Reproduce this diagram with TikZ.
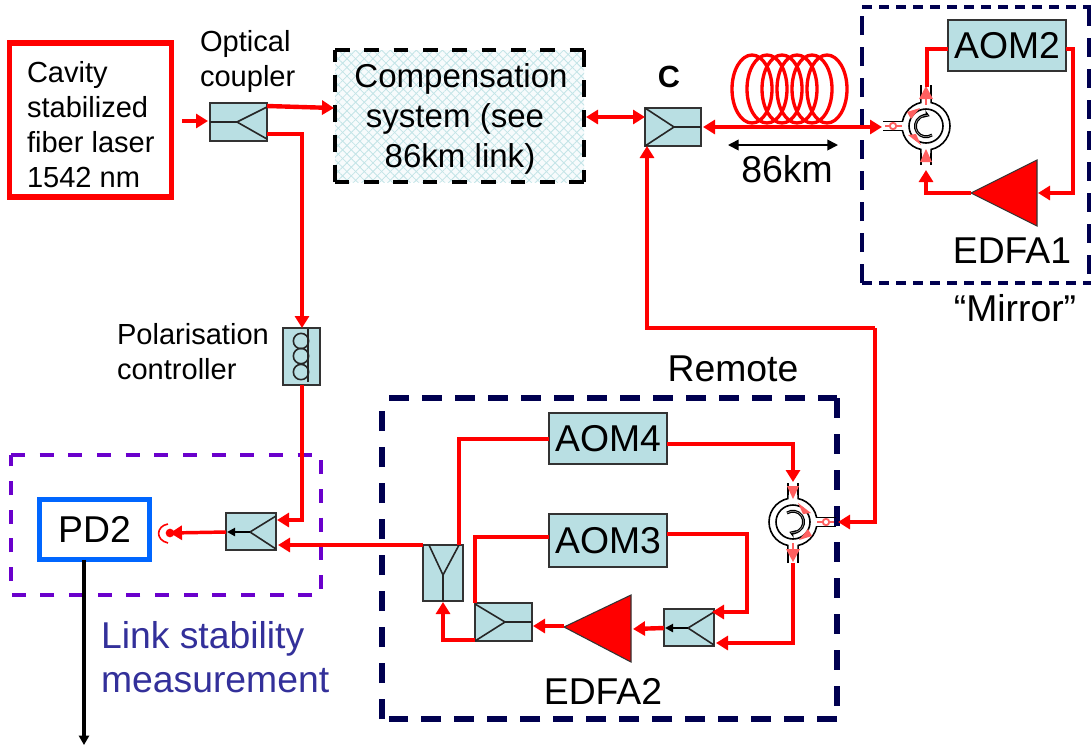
\documentclass[tikz,border=0pt]{standalone}
\usepackage{fontspec}
\setmainfont{Liberation Sans}
\usetikzlibrary{arrows.meta,patterns.meta,calc}
\definecolor{fib}{HTML}{FF0000}
\definecolor{pk}{HTML}{FF6060}
\definecolor{boxc}{HTML}{B9DFE3}
\definecolor{navyd}{HTML}{000050}
\definecolor{purp}{HTML}{6A00CC}
\definecolor{blued}{HTML}{0066FF}
\definecolor{linkc}{HTML}{33309A}
\tikzset{
  x=0.75pt,y=-0.75pt,
  redarrow/.tip={Triangle[length=9pt,width=10.5pt]},
  fibre/.style={draw=fib,line width=3.3pt,line join=miter},
  fibrea/.style={fibre,-{redarrow}},
  fibreb/.style={fibre,{redarrow}-{redarrow}},
  comp/.style={draw=black!80,line width=1.5pt,fill=boxc,inner sep=0pt,outer sep=0pt,font=\fontsize{28pt}{30pt}\selectfont},
  inner/.style={draw=black!85,line width=1.2pt},
  amp/.style={draw=black!80,line width=0.8pt,fill=fib},
  lab/.style={inner sep=0pt,outer sep=0pt,align=left,anchor=base west},
  big/.style={lab,font=\fontsize{28pt}{30pt}\selectfont},
  small/.style={lab,font=\fontsize{21.8pt}{26pt}\selectfont},
  blackarrow/.style={draw=black,line width=1.8pt,-{Triangle[length=6pt,width=6pt]}},
}
% box named #1, corners (#2,#3) and (#4,#5), text #6
\newcommand{\cbox}[6]{%
  \pgfmathsetmacro{\bw}{(#4-#2)*0.75}\pgfmathsetmacro{\bh}{(#5-#3)*0.75}%
  \node[comp,minimum width=\bw pt,minimum height=\bh pt] (#1) at ({(#2+#4)/2},{(#3+#5)/2}) {#6};%
}
% circulator: name, x, y, rotation
\newcommand{\circulator}[4]{%
  \begin{scope}[shift={(#2,#3)},rotate=#4]
    \foreach \s in {-5,5}{
      \draw[black,line width=1.2pt] (\s,-41) -- (\s,-21);
      \draw[black,line width=1.2pt] (\s,39) -- (\s,21);
      \draw[black,line width=1.2pt] (-43,\s*0.9) -- (-21,\s*0.9);
    }
    \node[circle,draw=black,line width=1.2pt,fill=white,minimum size=36pt,inner sep=0pt,outer sep=0pt] (#1) at (0,0) {};
    \fill[white] (-4.4,-27) rectangle (4.4,-18) (-4.4,27) rectangle (4.4,18) (-27,-3.8) rectangle (-18,3.8);
    \node[circle,draw=black,line width=1.2pt,minimum size=25.5pt,inner sep=0pt] at (0,0) {};
    \draw[black,line width=2.2pt,-{Stealth[length=4.5pt,width=6pt]}]
      (6,9) arc[start angle=-56,end angle=-290,x radius=8pt,y radius=8pt];
    \draw[white!70!black,line width=0.4pt] (6,9) arc[start angle=-56,end angle=-280,x radius=8pt,y radius=8pt];
    \fill[pk] (0,-40) -- (7,-27) -- (-7,-27) -- cycle;
    \draw[pk,line width=2pt] (0,-28) -- (0,-21);
    \fill[pk] (0,23) -- (6,36) -- (-6,36) -- cycle;
    \draw[pk,line width=2pt] (0,35) -- (0,28);
    \draw[pk,line width=1.4pt] (-33,0) circle[radius=2.4pt];
    \draw[pk,line width=2pt] (-41,0) -- (-37,0) (-29,0) -- (-24,0);
    \fill[pk] (-6,-18) -- (-19,-14) -- (-15,-7) -- cycle;
    \fill[pk] (-5,19) -- (-18,9) -- (-10,8) -- cycle;
  \end{scope}%
}
\begin{document}
\begin{tikzpicture}
\useasboundingbox (0,0) rectangle (1091,744);

% dashed frames
\node[inner sep=0,minimum width=186.75pt,minimum height=99pt,fill=boxc!12,
  postaction={pattern={Lines[angle=45,distance=4.6pt,line width=0.6pt]},pattern color=boxc!85},
  postaction={pattern={Lines[angle=-45,distance=4.6pt,line width=0.6pt]},pattern color=boxc!85}] (compfill) at (459.5,116) {};
\coordinate (ca) at (335,50);\coordinate (cb) at (584,50);\coordinate (cc) at (584,182);\coordinate (cd) at (335,182);
\draw[line width=3pt,dash pattern=on 11pt off 11pt] (ca) -- (cb);
\draw[line width=3pt,dash pattern=on 13pt off 9.5pt] (cb) -- (cc);
\draw[line width=3pt,dash pattern=on 11pt off 11pt] (cc) -- (cd);
\draw[line width=3pt,dash pattern=on 13pt off 9.5pt] (cd) -- (ca);

\coordinate (ma) at (862,7);\coordinate (mb) at (1091,7);\coordinate (mc) at (1091,283);\coordinate (md) at (862,283);\coordinate (me) at (1089,7);\coordinate (mf) at (1089,283);
\draw[navyd,line width=3.6pt,dash pattern=on 7.5pt off 5.25pt] (ma) -- (mb);
\draw[navyd,line width=3.6pt,dash pattern=on 7.5pt off 5.25pt] (md) -- (mc);
\draw[navyd,line width=3pt,dash pattern=on 14pt off 9.25pt] (md) -- (ma);
\draw[navyd,line width=3pt,dash pattern=on 14pt off 9.25pt] (me) -- (mf);

\coordinate (ra) at (382,398);\coordinate (rb) at (837,398);\coordinate (rc) at (837,719);\coordinate (rd) at (382,719);
\coordinate (ra2) at (389,398);\coordinate (rd2) at (389,719);\coordinate (ra3) at (382,404);
\draw[navyd,line width=4pt,dash pattern=on 15pt off 9.75pt] (ra2) -- (rb);
\draw[navyd,line width=4pt,dash pattern=on 15pt off 12pt] (rb) -- (rc);
\draw[navyd,line width=4pt,dash pattern=on 15pt off 9.75pt] (rc) -- (rd2);
\draw[navyd,line width=4pt,dash pattern=on 15pt off 12pt] (rd) -- (ra3);

\coordinate (pa) at (11,455);\coordinate (pb) at (321,455);\coordinate (pc) at (321,595);\coordinate (pd) at (11,595);
\draw[purp,line width=2.6pt,dash pattern=on 10.5pt off 11pt,line join=round] (pa) -- (pb) -- (pc) -- (pd) -- cycle;

% source and detector boxes
\node[draw=fib,line width=3.8pt,inner sep=0,outer sep=0,minimum width=122pt,minimum height=115.5pt] (laser) at (90.5,120) {};
\node[draw=blued,line width=3.8pt,inner sep=0,outer sep=0,minimum width=83pt,minimum height=45.5pt,font=\fontsize{28pt}{30pt}\selectfont] (pd) at (94.5,529.5) {PD2};

% components
\cbox{opt}{210}{103}{267}{141}{}
\cbox{cc}{645}{108}{701}{146}{}
\cbox{split}{423}{545}{463}{601}{}
\cbox{cpf}{475}{603}{532}{641}{}
\cbox{cpe}{664}{609}{714}{646}{}
\cbox{cpd}{226}{513}{276}{550}{}
\cbox{pol}{283}{328}{320}{385}{}
\cbox{aom2}{948}{20}{1066}{71}{AOM2}
\cbox{aom4}{549}{413}{667}{464}{AOM4}
\cbox{aom3}{549}{514}{667}{567}{AOM3}

% coupler internals
\coordinate (o1) at (237,122);\coordinate (o1a) at (267,107);\coordinate (o1b) at (267,139);
\draw[inner] (opt.west |- o1) -- (o1) -- (o1a) (o1) -- (o1b);
\coordinate (c1) at (674,127);\coordinate (c1a) at (645,108);\coordinate (c1b) at (645,146);\coordinate (c1o) at (701,127);
\draw[inner] (c1a) -- (c1) -- (c1b) (c1) -- (c1o);
\coordinate (s1) at (443,575);\coordinate (s1a) at (429,545);\coordinate (s1b) at (459,545);\coordinate (s1o) at (443,601);
\draw[inner] (s1a) -- (s1) -- (s1b) (s1) -- (s1o);
\coordinate (f1) at (505,622);\coordinate (f1a) at (475,604);\coordinate (f1b) at (475,641);\coordinate (f1o) at (532,622);
\draw[inner] (f1a) -- (f1) -- (f1b) (f1) -- (f1o);
\coordinate (e1) at (688,628);\coordinate (e1a) at (714,612);\coordinate (e1b) at (714,645);\coordinate (e1o) at (665,628);
\draw[inner] (e1a) -- (e1) -- (e1b);
\coordinate (d1) at (250,532);\coordinate (d1a) at (276,516);\coordinate (d1b) at (276,549);\coordinate (d1o) at (227,532);
\draw[inner] (d1a) -- (d1) -- (d1b);
\draw[blackarrow] (e1) -- (e1o);
\draw[blackarrow] (d1) -- (d1o);

% polarisation controller
\foreach \n/\y in {q1/341,q2/356,q3/372}
  \node[circle,draw=black!85,line width=1.2pt,minimum size=11.5pt,inner sep=0] (\n) at (301,\y) {};
\coordinate (pl1) at (308,329);\coordinate (pl2) at (308,382);
\draw[black!85,line width=1.2pt] (pl1) -- (pl2);

% circulators
\circulator{circa}{926}{126}{0}
\circulator{circb}{793}{522}{180}

% amplifiers
\coordinate (a1t) at (971,193);\coordinate (a1u) at (1037,160);\coordinate (a1d) at (1037,226);
\draw[amp] (a1t) -- (a1u) -- (a1d) -- cycle;
\coordinate (a2t) at (564,627);\coordinate (a2u) at (631,595);\coordinate (a2d) at (631,662);
\draw[amp] (a2t) -- (a2u) -- (a2d) -- cycle;

% fibre spool
\foreach \cx in {752,767,782,797,812,827}
  \draw[fib,line width=2.5pt] (\cx,89) ellipse[x radius=15pt,y radius=25.5pt];

% fibre connectors
\coordinate (in0) at (182,121);\coordinate (in1) at (208,121);
\draw[fibrea] (in0) -- (in1);
\coordinate (o1x) at (267,106);\coordinate (compin) at (334,108);
\draw[fibrea] (o1x) -- (compin);
\coordinate (o1y) at (267,134);\coordinate (o1z) at (302,134);\coordinate (polin) at (302,328);
\draw[fibrea] (o1y) -- (o1z) -- (polin);
\coordinate (compout) at (586,117);\coordinate (cin) at (645,117);
\draw[fibreb] (compout) -- (cin);
\coordinate (fibre1) at (703,127);\coordinate (fibre2) at (882,127);
\draw[fibreb,line width=2.6pt] (fibre1) -- (fibre2);
\coordinate (c2) at (875,522);\coordinate (c3) at (875,328);\coordinate (c4) at (647,328);\coordinate (c5) at (647,146);\coordinate (c2a) at (838,522);
\draw[fibrea] (c3) -- (c4) -- (c5);
\draw[fibrea] (c3) -- (c2) -- (c2a);

\coordinate (a2l) at (948,49);\coordinate (a2m) at (927,49);\coordinate (a2n) at (927,87);
\draw[fibre] (a2l) -- (a2m) -- (a2n);
\coordinate (a2r) at (1066,49);\coordinate (a2s) at (1073,49);\coordinate (a2q) at (1073,193);\coordinate (a1i) at (1038,193);
\draw[fibrea] (a2r) -- (a2s) -- (a2q) -- (a1i);
\coordinate (a1m) at (926,193);\coordinate (a1e) at (926,170);
\draw[fibrea] (a1t) -- (a1m) -- (a1e);

\coordinate (a4r) at (667,444);\coordinate (a4s) at (793,444);\coordinate (a4e) at (793,482);
\draw[fibrea] (a4r) -- (a4s) -- (a4e);
\coordinate (b0) at (793,563);\coordinate (b1) at (793,643);\coordinate (b2) at (716,643);
\draw[fibrea] (b0) -- (b1) -- (b2);
\coordinate (a3r) at (667,534);\coordinate (a3s) at (747,534);\coordinate (a3q) at (747,612);\coordinate (a3e) at (712,612);
\draw[fibrea] (a3r) -- (a3s) -- (a3q) -- (a3e);
\coordinate (e2) at (664,628);\coordinate (e3) at (633,629);
\draw[fibrea] (e2) -- (e3);
\coordinate (a2o) at (564,626);\coordinate (f2) at (533,626);
\draw[fibrea] (a2o) -- (f2);
\coordinate (f3) at (475,640);\coordinate (f4) at (443,640);\coordinate (f5) at (443,602);
\draw[fibrea] (f3) -- (f4) -- (f5);
\coordinate (f6) at (475,603);\coordinate (f7) at (475,537);\coordinate (f8) at (549,537);
\draw[fibre] (f6) -- (f7) -- (f8);
\coordinate (s2) at (459,545);\coordinate (s3) at (459,439);\coordinate (s4) at (549,439);
\draw[fibre] (s2) -- (s3) -- (s4);
\coordinate (s5) at (423,545);\coordinate (s6) at (278,545);
\draw[fibrea] (s5) -- (s6);
\coordinate (p1) at (302,385);\coordinate (p2) at (302,520);\coordinate (p3) at (277,520);
\draw[fibrea] (p1) -- (p2) -- (p3);
\coordinate (det) at (170,533);\coordinate (d2) at (226,532);
\draw[fibrea,line width=2.6pt] (d2) -- (det);

% detector
\node[circle,fill=fib,inner sep=0,minimum size=6.5pt] (dot) at (170,533) {};
\coordinate (ar1) at (168,524);\coordinate (ar2) at (168,543);\coordinate (ar3) at (156,526);\coordinate (ar4) at (155,540);
\draw[fib,line width=1.2pt] (ar1) .. controls (ar3) and (ar4) .. (ar2);

% black connectors
\coordinate (mea) at (84,745);
\draw[black,line width=2.4pt,-{Triangle[length=7pt,width=7.5pt]}] (pd.south -| mea) -- (mea);
\coordinate (da) at (728,145);\coordinate (db) at (838,145);
\draw[black,line width=1.3pt,{Triangle[length=8pt,width=8pt]}-{Triangle[length=8pt,width=8pt]}] (da) -- (db);

% labels
\node[small] (t1) at (27,82) {Cavity};
\node[small] (t2) at (27,117) {stabilized};
\node[small] (t3) at (27,152) {fiber laser};
\node[small] (t4) at (27,187) {1542 nm};
\node[small] (t5) at (200,51) {Optical};
\node[small] (t6) at (200,86) {coupler};
\node[lab,anchor=base,font=\fontsize{24.8pt}{30pt}\selectfont] (t7) at (461,87) {Compensation};
\node[lab,anchor=base,font=\fontsize{24.8pt}{30pt}\selectfont] (t8) at (455,127) {system (see};
\node[lab,anchor=base,font=\fontsize{24.8pt}{30pt}\selectfont] (t9) at (460,167) {86km link)};
\node[lab,anchor=base,font=\fontsize{23pt}{26pt}\bfseries\selectfont] (t10) at (669,87) {C};
\node[big,anchor=base] (t11) at (787,182) {86km};
\node[big,anchor=base] (t12) at (1012,263) {EDFA1};
\node[big,anchor=base] (t13) at (1015,321) {“Mirror”};
\node[small] (t14) at (117,344) {Polarisation};
\node[small] (t15) at (117,379) {controller};
\node[big,anchor=base] (t16) at (733,381) {Remote};
\node[big,anchor=base] (t17) at (603,704) {EDFA2};
\node[big,text=linkc] (t18) at (101,648) {Link stability};
\node[big,text=linkc] (t19) at (101,692) {measurement};
\end{tikzpicture}
\end{document}
